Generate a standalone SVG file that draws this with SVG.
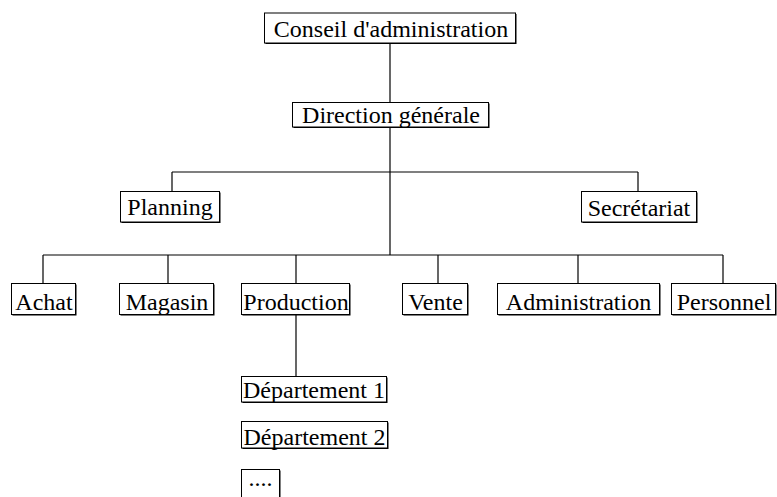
<svg xmlns="http://www.w3.org/2000/svg" width="777" height="497" viewBox="0 0 777 497">
  <style>
    .box rect.shadow { fill: #000; }
    .box rect.face { fill: #fff; stroke: #000; stroke-width: 1; }
    .box text { font-family: "Liberation Serif", "Times New Roman", serif; font-size: 24px; fill: #000; text-anchor: middle; }
    #connectors line { stroke: #000; stroke-width: 1.2; }
  </style>
  <rect width="777" height="497" fill="#fff"/>

  <g id="connectors">
    <line x1="390" y1="43" x2="390" y2="103"/>
    <line x1="390" y1="127" x2="390" y2="255"/>
    <line x1="172" y1="172" x2="638" y2="172"/>
    <line x1="172" y1="172" x2="172" y2="192"/>
    <line x1="638" y1="172" x2="638" y2="192"/>
    <line x1="43" y1="255" x2="723" y2="255"/>
    <line x1="43" y1="255" x2="43" y2="284"/>
    <line x1="168" y1="255" x2="168" y2="284"/>
    <line x1="296" y1="255" x2="296" y2="284"/>
    <line x1="438" y1="255" x2="438" y2="284"/>
    <line x1="578" y1="255" x2="578" y2="284"/>
    <line x1="723" y1="255" x2="723" y2="284"/>
    <line x1="296" y1="314" x2="296" y2="377"/>
  </g>

  <g id="conseil" class="box">
    <rect class="shadow" x="265.5" y="14" width="251" height="30"/>
    <rect class="face" x="264.5" y="13" width="251" height="30"/>
    <text x="391" y="37">Conseil d'administration</text>
  </g>

  <g id="direction" class="box">
    <rect class="shadow" x="293.5" y="103.5" width="196" height="24.5"/>
    <rect class="face" x="292.5" y="102.5" width="196" height="24.5"/>
    <text x="391" y="123">Direction générale</text>
  </g>

  <g id="planning" class="box">
    <rect class="shadow" x="121.5" y="192.5" width="99" height="30.5"/>
    <rect class="face" x="120.5" y="191.5" width="99" height="30.5"/>
    <text x="170" y="215">Planning</text>
  </g>

  <g id="secretariat" class="box">
    <rect class="shadow" x="582.5" y="192.5" width="115" height="30.5"/>
    <rect class="face" x="581.5" y="191.5" width="115" height="30.5"/>
    <text x="639" y="216">Secrétariat</text>
  </g>

  <g id="achat" class="box">
    <rect class="shadow" x="12.5" y="284.5" width="64" height="31"/>
    <rect class="face" x="11.5" y="283.5" width="64" height="31"/>
    <text x="44" y="310">Achat</text>
  </g>

  <g id="magasin" class="box">
    <rect class="shadow" x="120.5" y="284.5" width="94" height="31"/>
    <rect class="face" x="119.5" y="283.5" width="94" height="31"/>
    <text x="167" y="310">Magasin</text>
  </g>

  <g id="production" class="box">
    <rect class="shadow" x="242.5" y="284.5" width="108" height="31"/>
    <rect class="face" x="241.5" y="283.5" width="108" height="31"/>
    <text x="296" y="310">Production</text>
  </g>

  <g id="vente" class="box">
    <rect class="shadow" x="403.5" y="284.5" width="65" height="31"/>
    <rect class="face" x="402.5" y="283.5" width="65" height="31"/>
    <text x="435.5" y="310">Vente</text>
  </g>

  <g id="administration" class="box">
    <rect class="shadow" x="498.5" y="284.5" width="162" height="31"/>
    <rect class="face" x="497.5" y="283.5" width="162" height="31"/>
    <text x="578.5" y="310">Administration</text>
  </g>

  <g id="personnel" class="box">
    <rect class="shadow" x="672.5" y="284.5" width="104" height="31"/>
    <rect class="face" x="671.5" y="283.5" width="104" height="31"/>
    <text x="724" y="310">Personnel</text>
  </g>

  <g id="departement1" class="box">
    <rect class="shadow" x="242.5" y="377.5" width="145" height="25.5"/>
    <rect class="face" x="241.5" y="376.5" width="145" height="25.5"/>
    <text x="314" y="398">Département 1</text>
  </g>

  <g id="departement2" class="box">
    <rect class="shadow" x="242.5" y="422.5" width="146" height="26.5"/>
    <rect class="face" x="241.5" y="421.5" width="146" height="26.5"/>
    <text x="314.5" y="445">Département 2</text>
  </g>

  <g id="suite" class="box">
    <rect class="shadow" x="242.5" y="470.5" width="38" height="40"/>
    <rect class="face" x="241.5" y="469.5" width="38" height="40"/>
    <text x="260.5" y="486">....</text>
  </g>
</svg>
